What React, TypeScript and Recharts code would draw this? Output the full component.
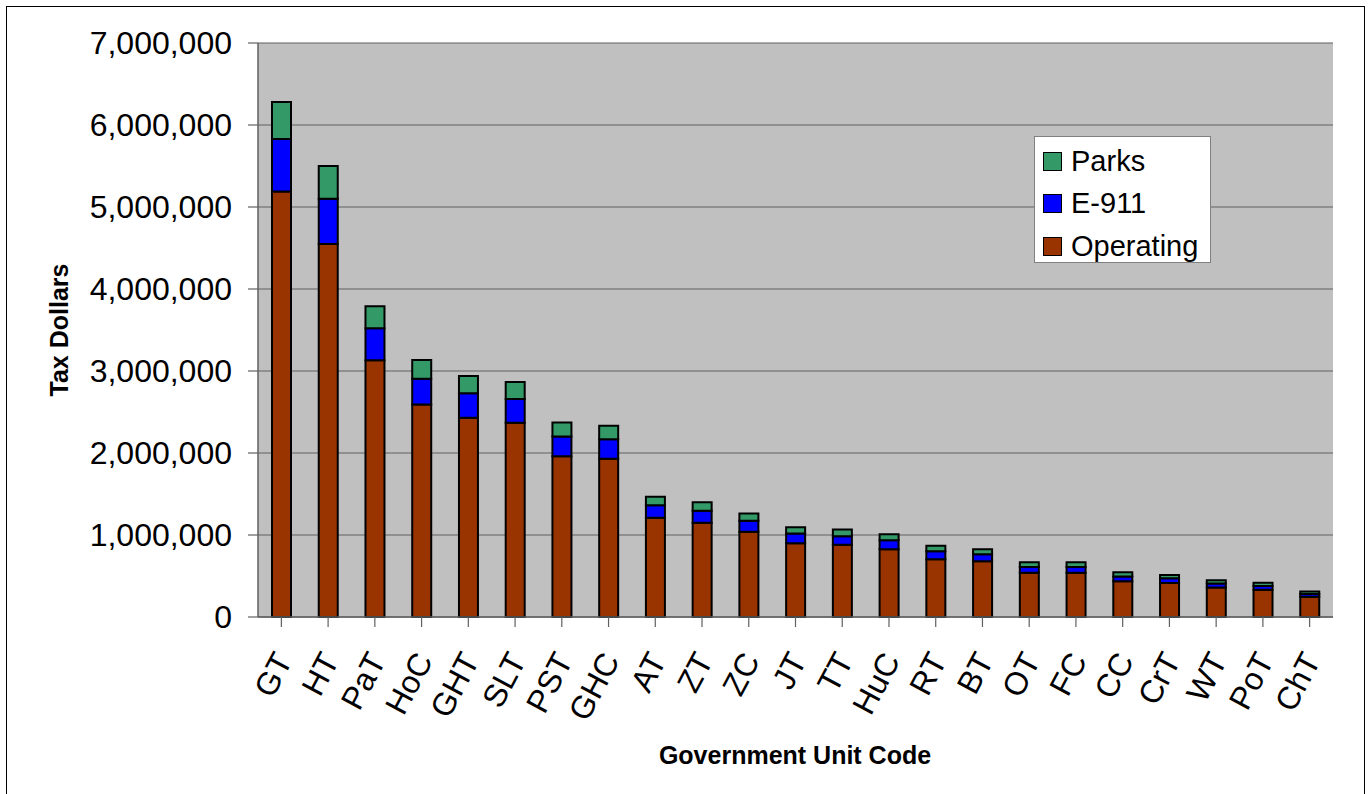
import React from "react";
import {
  Bar,
  BarChart,
  CartesianGrid,
  Legend,
  XAxis,
  YAxis,
} from "recharts";

const units = [
  "GT", "HT", "PaT", "HoC", "GHT", "SLT", "PST", "GHC", "AT", "ZT", "ZC", "JT",
  "TT", "HuC", "RT", "BT", "OT", "FC", "CC", "CrT", "WT", "PoT", "ChT",
];

const operating = [
  5190000, 4550000, 3130000, 2590000, 2430000, 2370000, 1960000, 1930000,
  1210000, 1150000, 1040000, 900000, 880000, 825000, 705000, 680000, 540000,
  540000, 435000, 415000, 360000, 332000, 246000,
];

const e911 = [
  640000, 550000, 390000, 315000, 300000, 290000, 240000, 238000, 152000,
  147000, 134000, 118000, 106000, 110000, 98000, 85000, 70000, 70000, 58000,
  57000, 50000, 45000, 35000,
];

const parks = [
  450000, 400000, 270000, 230000, 210000, 206000, 172000, 164000, 105000,
  101000, 89000, 78000, 81000, 73000, 65000, 61000, 57000, 57000, 53000, 41000,
  37000, 41000, 30000,
];

const yTicks = [0, 1000000, 2000000, 3000000, 4000000, 5000000, 6000000, 7000000];

const legendOrder = ["Parks", "E-911", "Operating"];

const data = units.map((u, i) => ({
  unit: u,
  Operating: operating[i],
  "E-911": e911[i],
  Parks: parks[i],
}));

const FONT = "'Liberation Sans', Arial, sans-serif";

const XTick = (props: any) => {
  const { x, y, payload } = props;
  return (
    <text
      transform={`translate(${x + 2},${y + 26}) rotate(-62)`}
      textAnchor="end"
      dy="0.35em"
      fontSize={32}
      fontFamily={FONT}
      fill="#000"
    >
      {payload.value}
    </text>
  );
};

const LegendBox = (props: any) => {
  const items = legendOrder
    .map((name) => (props.payload || []).find((p: any) => p.value === name))
    .filter(Boolean);
  return (
    <div
      style={{
        width: 177,
        height: 127,
        background: "#fff",
        border: "1px solid #808080",
        boxSizing: "border-box",
        paddingTop: 3,
        fontFamily: FONT,
        fontSize: 29,
      }}
    >
      {items.map((it: any) => (
        <div
          key={it.value}
          style={{ display: "flex", alignItems: "center", height: 42.5, paddingLeft: 8 }}
        >
          <span
            style={{
              width: 19,
              height: 19,
              background: it.color,
              border: "1.5px solid #000",
              boxSizing: "border-box",
              marginRight: 9,
              display: "inline-block",
            }}
          />
          <span>{it.value}</span>
        </div>
      ))}
    </div>
  );
};

export default function App() {
  return (
    <div style={{ position: "absolute", left: 0, top: 0, width: 1368, height: 794, overflow: "hidden", background: "#fff" }}>
      <div
        style={{
          position: "absolute",
          left: 6,
          top: 6,
          width: 1359,
          height: 820,
          border: "1.5px solid #000",
          boxSizing: "border-box",
        }}
      />
      <div style={{ position: "absolute", left: 0, top: 0 }}>
        <BarChart
          width={1368}
          height={794}
          data={data}
          margin={{ top: 43, right: 35, bottom: 0, left: 0 }}
          barSize={19}
        >
          <CartesianGrid
            vertical={false}
            fill="#C0C0C0"
            fillOpacity={1}
            stroke="#606060"
            strokeWidth={1.2}
          />
          <XAxis
            dataKey="unit"
            height={177}
            interval={0}
            tickSize={10}
            tickLine={{ stroke: "#606060", strokeWidth: 1.2 }}
            axisLine={{ stroke: "#606060", strokeWidth: 1.5 }}
            tick={<XTick />}
            label={{
              content: () => (
                <text
                  x={795}
                  y={764}
                  textAnchor="middle"
                  fontSize={25}
                  fontWeight="bold"
                  fontFamily={FONT}
                  fill="#000"
                >
                  Government Unit Code
                </text>
              ),
            }}
          />
          <YAxis
            width={258}
            domain={[0, 7000000]}
            ticks={yTicks}
            interval={0}
            tickSize={10}
            tickMargin={16}
            tickLine={{ stroke: "#606060", strokeWidth: 1.2 }}
            axisLine={{ stroke: "#606060", strokeWidth: 1.5 }}
            tick={{ fontSize: 32, fontFamily: FONT, fill: "#000" }}
            tickFormatter={(v: number) => v.toLocaleString("en-US")}
            label={{
              content: () => (
                <text
                  x={0}
                  y={0}
                  transform="translate(68,330) rotate(-90)"
                  textAnchor="middle"
                  fontSize={25}
                  fontWeight="bold"
                  fontFamily={FONT}
                  fill="#000"
                >
                  Tax Dollars
                </text>
              ),
            }}
          />
          <YAxis
            yAxisId="frame"
            orientation="right"
            width={0}
            domain={[0, 7000000]}
            ticks={[]}
            tick={false}
            tickLine={false}
            axisLine={{ stroke: "#808080", strokeWidth: 2.5 }}
          />
          <Legend
            layout="horizontal"
            verticalAlign="middle"
            align="center"
            content={<LegendBox />}
            wrapperStyle={{ position: "absolute", left: 1034, top: 136, width: 177, height: 127 }}
          />
          <Bar dataKey="Operating" stackId="a" fill="#993300" stroke="#000" strokeWidth={2} isAnimationActive={false} />
          <Bar dataKey="E-911" stackId="a" fill="#0000FF" stroke="#000" strokeWidth={2} isAnimationActive={false} />
          <Bar dataKey="Parks" stackId="a" fill="#339966" stroke="#000" strokeWidth={2} isAnimationActive={false} />
        </BarChart>
      </div>
    </div>
  );
}
